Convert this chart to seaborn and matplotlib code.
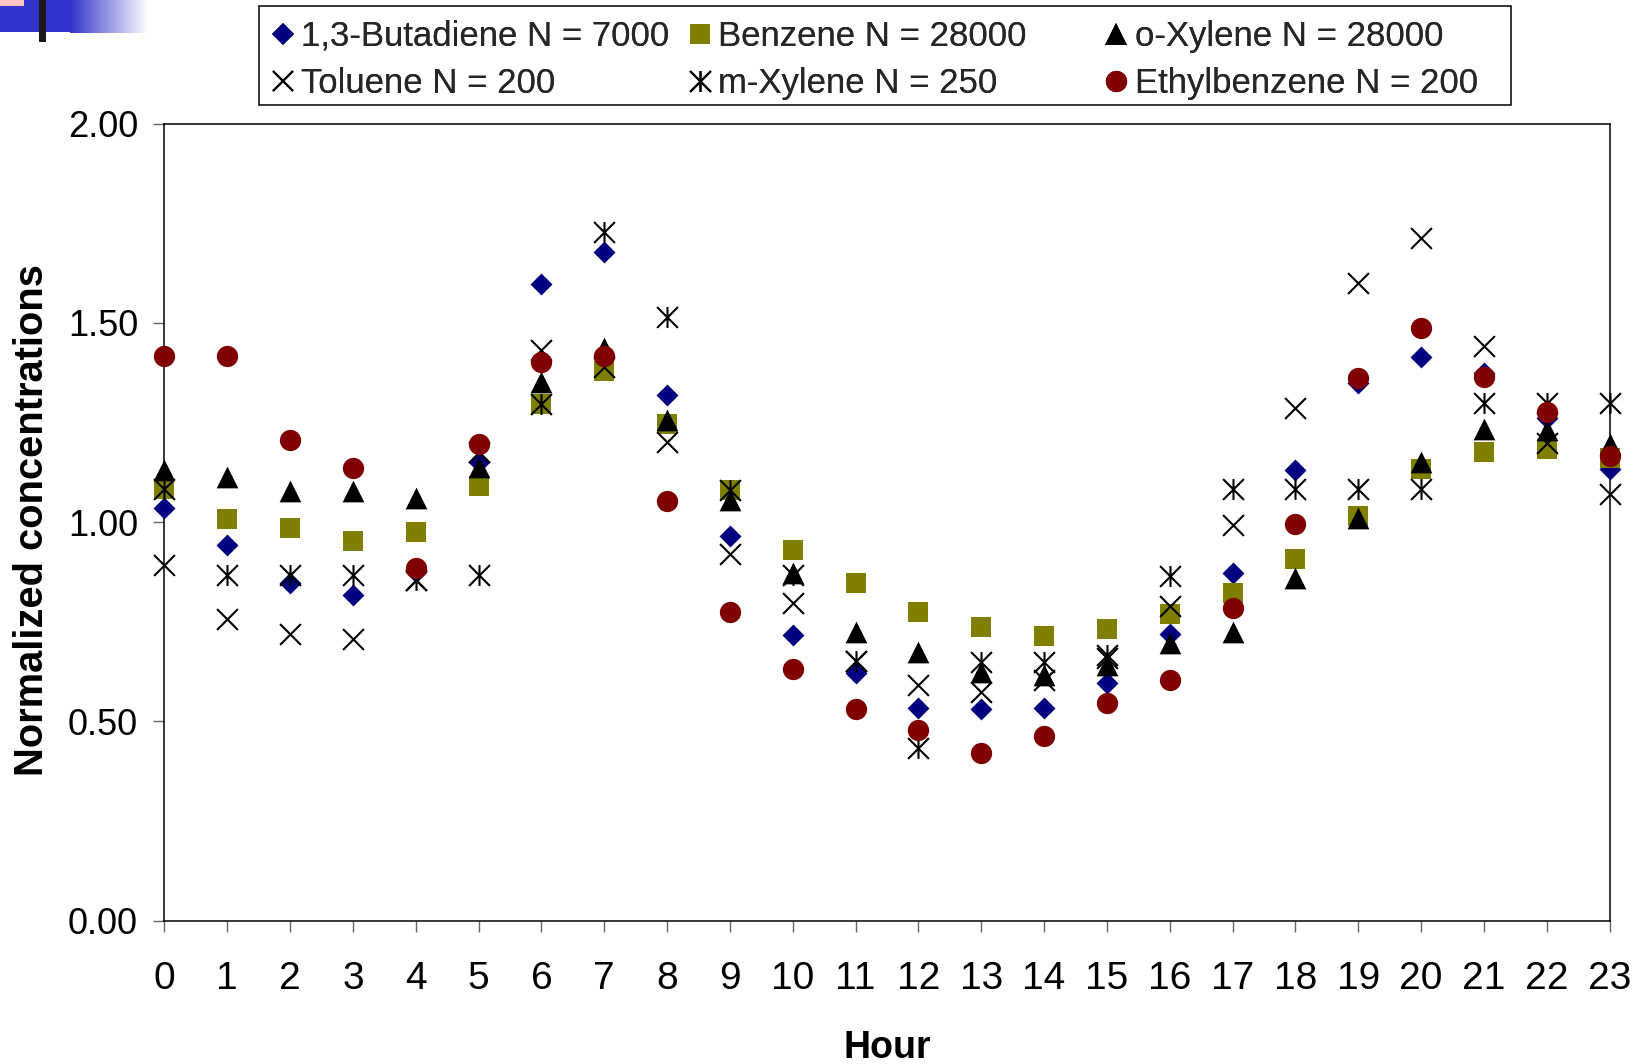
import numpy as np
import pandas as pd
import matplotlib
matplotlib.use("Agg")
import matplotlib.pyplot as plt
import seaborn as sns
from matplotlib.path import Path
from matplotlib.patches import Rectangle
from matplotlib.lines import Line2D
from matplotlib.colors import LinearSegmentedColormap

# ---------------- data ----------------
hours = list(range(24))
butadiene = [1.036, 0.943, 0.848, 0.816, 0.875, 1.151, 1.598, 1.678, 1.319, 0.965, 0.716, 0.622,
             0.534, 0.530, 0.534, 0.597, 0.718, 0.871, 1.131, 1.350, 1.413, 1.374, 1.262, 1.132]
benzene = [1.084, 1.008, 0.984, 0.953, 0.976, 1.090, 1.296, 1.380, 1.245, 1.080, 0.930, 0.846,
           0.775, 0.737, 0.714, 0.732, 0.768, 0.821, 0.907, 1.016, 1.134, 1.177, 1.184, 1.160]
o_xylene = [1.130, 1.113, 1.077, 1.077, 1.060, 1.139, 1.352, 1.438, 1.256, 1.055, 0.871, 0.725,
            0.673, 0.624, 0.616, 0.641, 0.696, 0.724, 0.859, 1.010, 1.150, 1.234, 1.231, 1.195]
toluene = [0.893, 0.756, 0.718, 0.707, 0.855, 1.176, 1.433, 1.390, 1.202, 0.921, 0.796, 0.652,
           0.591, 0.574, 0.603, 0.658, 0.790, 0.993, 1.287, 1.600, 1.712, 1.442, 1.199, 1.071]
m_xylene = [1.084, 0.866, 0.866, 0.866, 0.855, 0.866, 1.296, 1.728, 1.514, 1.080, 0.867, 0.652,
            0.432, 0.649, 0.649, 0.666, 0.865, 1.082, 1.082, 1.082, 1.082, 1.298, 1.298, 1.298]
ethylbenzene = [1.416, 1.416, 1.207, 1.136, 0.884, 1.195, 1.401, 1.416, 1.053, 0.773, 0.631, 0.532,
                0.478, 0.421, 0.464, 0.547, 0.603, 0.785, 0.996, 1.361, 1.488, 1.363, 1.277, 1.166]

labels = ["1,3-Butadiene N = 7000", "Benzene N = 28000", "o-Xylene N = 28000",
          "Toluene N = 200", "m-Xylene N = 250", "Ethylbenzene N = 200"]
y_ticks = [0.0, 0.5, 1.0, 1.5, 2.0]
x_label = "Hour"
y_label = "Normalized concentrations"

# ---------------- style ----------------
sns.set_theme(style="white")
plt.rcParams['font.family'] = ['Liberation Sans', 'DejaVu Sans']

W, H = 1642, 1064
fig = plt.figure(figsize=(W / 100, H / 100), dpi=100)
fig.patch.set_facecolor("white")

def fx(px):
    return px / W

def fy(py):
    return 1 - py / H

ax_l, ax_r, ax_t, ax_b = 164.4, 1609.5, 123.6, 920.5
ax = fig.add_axes([fx(ax_l), fy(ax_b), fx(ax_r - ax_l), (ax_b - ax_t) / H])

# asterisk marker (x + vertical bar)
ast_path = Path([(-0.5, -0.5), (0.5, 0.5), (-0.5, 0.5), (0.5, -0.5), (0, -0.5), (0, 0.5)],
                [Path.MOVETO, Path.LINETO, Path.MOVETO, Path.LINETO, Path.MOVETO, Path.LINETO])

series = [
    dict(y=butadiene, label=labels[0], marker="D", color="#000080", s=125, lw=0, ms=11.2),
    dict(y=benzene, label=labels[1], marker="s", color="#808000", s=225, lw=0, ms=15.0),
    dict(y=o_xylene, label=labels[2], marker="^", color="#000000", s=245, lw=0, ms=15.6),
    dict(y=toluene, label=labels[3], marker="x", color="#000000", s=225, lw=1.5, ms=15.0),
    dict(y=m_xylene, label=labels[4], marker=ast_path, color="#000000", s=225, lw=1.5, ms=15.0),
    dict(y=ethylbenzene, label=labels[5], marker="o", color="#800000", s=235, lw=0, ms=15.3),
]

for z, sd in enumerate(series):
    df = pd.DataFrame({"hour": hours, "value": sd["y"]})
    kw = dict(x="hour", y="value", data=df, marker=sd["marker"], color=sd["color"],
              s=sd["s"], linewidth=sd["lw"], ax=ax, clip_on=False, zorder=3 + z, legend=False)
    if sd["lw"] > 0:
        kw["edgecolor"] = sd["color"]
    sns.scatterplot(**kw)

ax.set_xlim(0, 23)
ax.set_ylim(0, 2.0)
ax.set_xticks(hours)
ax.set_xticklabels([str(h) for h in hours])
ax.set_yticks(y_ticks)
ax.set_yticklabels([f"{v:.2f}" for v in y_ticks])

for sp in ax.spines.values():
    sp.set_visible(True)
    sp.set_color("black")
    sp.set_linewidth(1.1)

ax.tick_params(axis="y", direction="out", length=8, width=1, color="#666666",
               labelsize=26, pad=11, left=True, labelcolor="black")
ax.tick_params(axis="x", direction="out", length=8, width=1, color="#666666",
               labelsize=28, pad=21, bottom=True, labelcolor="black")
ax.grid(False)

ax.set_xlabel(x_label, fontsize=27, fontweight="bold", color="black")
ax.xaxis.set_label_coords(0.5, (ax_b - 1030) / (ax_b - ax_t))
ax.xaxis.label.set_va("top")
ax.set_ylabel(y_label, fontsize=28.7, fontweight="bold", color="black")
ax.yaxis.label.set_va("center")
ax.yaxis.set_label_coords((32 - ax_l) / (ax_r - ax_l), (ax_b - 520) / (ax_b - ax_t))

# ---------------- legend (three columns, one frame) ----------------
handles = [Line2D([], [], linestyle="none", marker=sd["marker"], markersize=sd["ms"],
                  markerfacecolor=sd["color"] if sd["lw"] == 0 else "none",
                  markeredgecolor=sd["color"], markeredgewidth=sd["lw"] if sd["lw"] > 0 else 0)
           for sd in series]
col_starts = [270.6, 687.4, 1104.2]
for c in range(3):
    leg = fig.legend(handles=[handles[c], handles[c + 3]], labels=[labels[c], labels[c + 3]],
                     loc="center left", bbox_to_anchor=(fx(col_starts[c]), fy(60.2)),
                     frameon=False, fontsize=25, handlelength=0.7, handletextpad=0.18,
                     labelspacing=0.42, borderpad=0, borderaxespad=0)
    fig.add_artist(leg)
fig.add_artist(Rectangle((fx(259), fy(105)), fx(1511 - 259), (105 - 6) / H,
                         transform=fig.transFigure, fill=False, edgecolor="black", linewidth=1.1))

# ---------------- slide decoration (top-left) ----------------
fig.add_artist(Rectangle((0, fy(32)), fx(70), 32 / H, transform=fig.transFigure,
                         facecolor="#3333CC", edgecolor="none"))
fig.add_artist(Rectangle((0, fy(6)), fx(24), 6 / H, transform=fig.transFigure,
                         facecolor="#FFC4C4", edgecolor="none"))
gax = fig.add_axes([fx(70), fy(33), fx(77), 33 / H])
grad = np.linspace(0, 1, 256)[None, :]
cmap = LinearSegmentedColormap.from_list("g", ["#3333CC", "#FFFFFF"])
gax.imshow(grad, aspect="auto", cmap=cmap)
gax.axis("off")
fig.add_artist(Rectangle((fx(39), fy(42)), fx(7), 42 / H, transform=fig.transFigure,
                         facecolor="#1a1a1a", edgecolor="none"))

fig.savefig("out.png", dpi=100, facecolor="white")
